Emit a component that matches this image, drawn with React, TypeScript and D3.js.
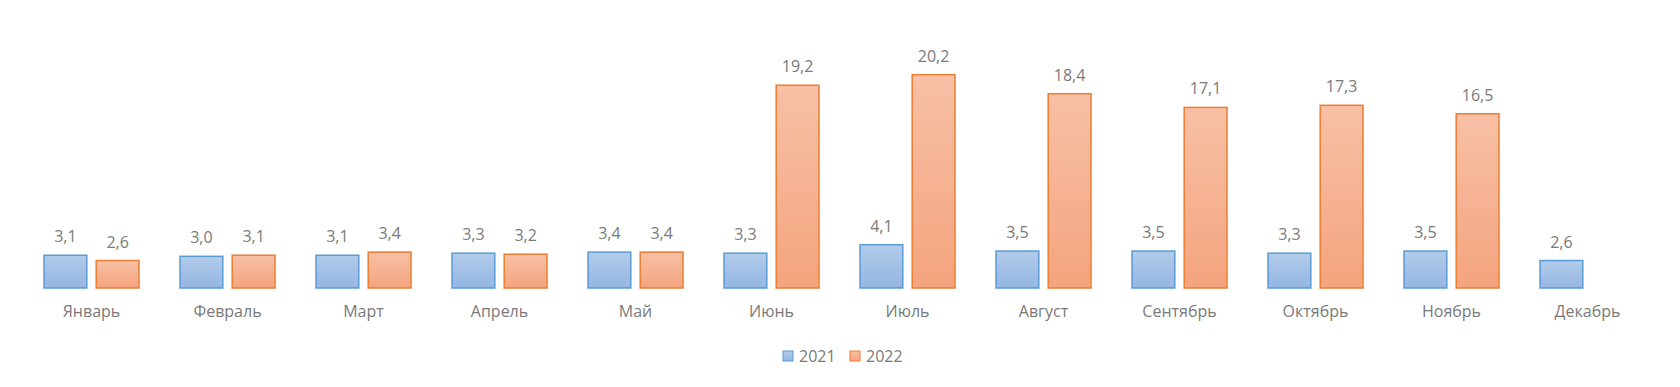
import React from 'react'
import * as d3 from 'd3'

const months = ['Январь', 'Февраль', 'Март', 'Апрель', 'Май', 'Июнь', 'Июль', 'Август', 'Сентябрь', 'Октябрь', 'Ноябрь', 'Декабрь']
const series = ['2021', '2022']
const values2021: (number | null)[] = [3.1, 3.0, 3.1, 3.3, 3.4, 3.3, 4.1, 3.5, 3.5, 3.3, 3.5, 2.6]
const values2022: (number | null)[] = [2.6, 3.1, 3.4, 3.2, 3.4, 19.2, 20.2, 18.4, 17.1, 17.3, 16.5, null]

const width = 1680
const height = 387
const font = '"Open Sans", "Noto Sans", sans-serif'
const textColor = '#7a7a7a'

const colors: Record<string, { top: string; bottom: string; stroke: string }> = {
    '2021': { top: '#b2cbea', bottom: '#94b6e2', stroke: '#5b9bd5' },
    '2022': { top: '#f8c0a6', bottom: '#f4a47e', stroke: '#ed7d31' },
}

export default function App() {
    const x0 = d3.scaleBand<string>()
        .domain(months)
        .range([23.5, 1655.5])
        .paddingInner(41 / 136)
        .paddingOuter(41 / 136 / 2)

    const x1 = d3.scaleBand<string>()
        .domain(series)
        .range([0, x0.bandwidth()])
        .paddingInner(0.18)

    const y = d3.scaleLinear().domain([0, 25]).range([288, 24])

    const data = series.map(s => ({
        key: s,
        values: s === '2021' ? values2021 : values2022,
    }))

    const fmt = (v: number) => d3.format('.1f')(v).replace('.', ',')

    // legend layout
    const swatch = 10
    const itemW = 67
    const legendX = 783
    const legendY = 351

    return (
        <div style={{ margin: -8 }}>
            <svg width={width} height={height} style={{ display: 'block', fontFamily: font }}>
                <defs>
                    {series.map(s => (
                        <linearGradient key={s} id={`grad-${s}`} x1="0" y1="0" x2="0" y2="1">
                            <stop offset="0%" stopColor={colors[s].top} />
                            <stop offset="100%" stopColor={colors[s].bottom} />
                        </linearGradient>
                    ))}
                </defs>
                <rect width={width} height={height} fill="#fff" />
                {data.map(d => (
                    <g key={d.key}>
                        {months.map((m, i) => {
                            const v = d.values[i]
                            if (v == null) return null
                            const bx = (x0(m) ?? 0) + (x1(d.key) ?? 0)
                            const by = y(v)
                            return (
                                <g key={m}>
                                    <rect
                                        x={bx}
                                        y={by}
                                        width={x1.bandwidth()}
                                        height={y(0) - by}
                                        fill={`url(#grad-${d.key})`}
                                        stroke={colors[d.key].stroke}
                                        strokeWidth={1.5}
                                    />
                                    <text
                                        x={bx + x1.bandwidth() / 2}
                                        y={by - 13}
                                        textAnchor="middle"
                                        fontSize={16}
                                        fill={textColor}
                                    >
                                        {fmt(v)}
                                    </text>
                                </g>
                            )
                        })}
                    </g>
                ))}
                {months.map(m => (
                    <text
                        key={m}
                        x={(x0(m) ?? 0) + x0.bandwidth() / 2}
                        y={317}
                        textAnchor="middle"
                        fontSize={16}
                        fill={textColor}
                    >
                        {m}
                    </text>
                ))}
                {series.map((s, i) => (
                    <g key={s} transform={`translate(${legendX + i * itemW},${legendY})`}>
                        <rect
                            width={swatch}
                            height={swatch}
                            fill={`url(#grad-${s})`}
                            stroke={colors[s].stroke}
                            strokeWidth={1}
                        />
                        <text x={16} y={swatch + 0.5} fontSize={16} fill={textColor}>
                            {s}
                        </text>
                    </g>
                ))}
            </svg>
        </div>
    )
}
